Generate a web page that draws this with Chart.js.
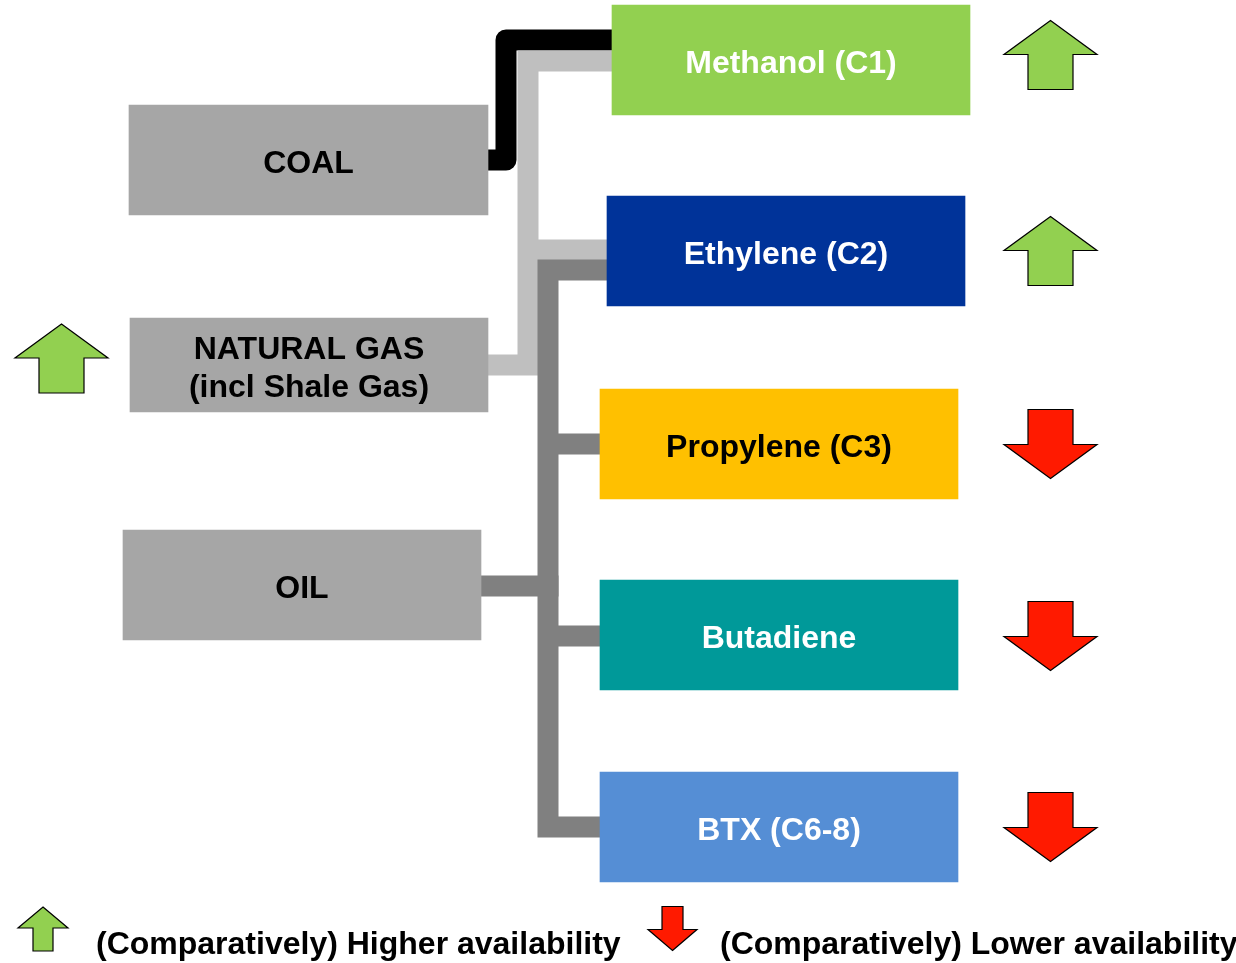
<!DOCTYPE html>
<html>
<head>
<meta charset="utf-8">
<script src="https://cdn.jsdelivr.net/npm/chart.js@4.4.1/dist/chart.umd.min.js"></script>
<style>
  html, body { margin: 0; padding: 0; background: #fff; }
  canvas { display: block; }
</style>
</head>
<body>
<canvas id="flowChart" width="1236" height="963"></canvas>
<script>
/* DATA */
const feedstocks = [["COAL"], ["NATURAL GAS", "(incl Shale Gas)"], ["OIL"]];
const feedstockTrend = [0, 1, 0];            // 1 = higher, -1 = lower, 0 = none
const products = ["Methanol (C1)", "Ethylene (C2)", "Propylene (C3)", "Butadiene", "BTX (C6-8)"];
const productTrend = [1, 1, -1, -1, -1];
// [feedstock index, product index]
const links = [[0, 0], [1, 0], [1, 1], [2, 1], [2, 2], [2, 3], [2, 4]];
const legendLabels = ["(Comparatively) Higher availability", "(Comparatively) Lower availability"];

/* LAYOUT */
const feedBoxes = [
  { x0: 129, x1: 488, y: 160, h: 110 },
  { x0: 130, x1: 488, y: 365, h: 94 },
  { x0: 123, x1: 481, y: 585, h: 110 }
];
const prodBoxes = [
  { x0: 612, x1: 970, y: 60 },
  { x0: 607, x1: 965, y: 251 },
  { x0: 600, x1: 958, y: 444 },
  { x0: 600, x1: 958, y: 635 },
  { x0: 600, x1: 958, y: 827 }
];
const prodColors = ["#92d050", "#003399", "#ffc000", "#009999", "#558ed5"];
const prodTextColors = ["#fff", "#fff", "#000", "#fff", "#fff"];
const trunkX = [506, 528, 548];
const linkColors = ["#000000", "#bfbfbf", "#808080"];
const feedLinkY = [160, 365, 586];
const linkProdDy = { "0-0": -20, "1-0": 1, "1-1": -1, "2-1": 19, "2-2": 0, "2-3": 1, "2-4": 0 };
const arrowDy = [-5, 0, 0, 1, 0];

const FONT = 'bold 32px "Liberation Sans", Arial, sans-serif';
const GREEN = "#92d050";
const RED = "#ff1a00";

function drawArrow(ctx, cx, cy, w, h, headH, shaftW, dir, fill) {
  const top = cy - h / 2, bot = cy + h / 2;
  ctx.beginPath();
  if (dir > 0) {
    const hb = top + headH;
    ctx.moveTo(cx, top);
    ctx.lineTo(cx + w / 2, hb);
    ctx.lineTo(cx + shaftW / 2, hb);
    ctx.lineTo(cx + shaftW / 2, bot);
    ctx.lineTo(cx - shaftW / 2, bot);
    ctx.lineTo(cx - shaftW / 2, hb);
    ctx.lineTo(cx - w / 2, hb);
  } else {
    const hb = bot - headH;
    ctx.moveTo(cx, bot);
    ctx.lineTo(cx + w / 2, hb);
    ctx.lineTo(cx + shaftW / 2, hb);
    ctx.lineTo(cx + shaftW / 2, top);
    ctx.lineTo(cx - shaftW / 2, top);
    ctx.lineTo(cx - shaftW / 2, hb);
    ctx.lineTo(cx - w / 2, hb);
  }
  ctx.closePath();
  ctx.fillStyle = fill;
  ctx.fill();
  ctx.lineWidth = 1.2;
  ctx.strokeStyle = "#000";
  ctx.lineJoin = "miter";
  ctx.stroke();
}

/* connectors, behind boxes */
const connectorPlugin = {
  id: "connectors",
  beforeDatasetsDraw(chart) {
    const { ctx, scales: { x, y } } = chart;
    ctx.save();
    feedstocks.forEach((f, fi) => {
      const mine = links.filter(l => l[0] === fi);
      if (!mine.length) return;
      const tx = x.getPixelForValue(trunkX[fi]);
      const fy = y.getPixelForValue(feedLinkY[fi]);
      const fx = x.getPixelForValue(feedBoxes[fi].x1);
      ctx.strokeStyle = linkColors[fi];
      ctx.lineWidth = 21;
      ctx.lineCap = "butt";
      ctx.lineJoin = fi === 0 ? "round" : "miter";
      const ends = mine.map(l => ({
        px: x.getPixelForValue(prodBoxes[l[1]].x0),
        py: y.getPixelForValue(prodBoxes[l[1]].y + linkProdDy[l[0] + "-" + l[1]])
      }));
      const first = ends.reduce((a, b) => (b.py < a.py ? b : a));
      const last = ends.reduce((a, b) => (b.py > a.py ? b : a));
      const feedBelow = !(last !== first && last.py > fy);
      ctx.beginPath();
      ctx.moveTo(first.px, first.py);
      ctx.lineTo(tx, first.py);
      if (!feedBelow) {
        ctx.lineTo(tx, last.py);
        ctx.lineTo(last.px, last.py);
      } else {
        ctx.lineTo(tx, fy);
        ctx.lineTo(fx, fy);
      }
      ctx.stroke();
      ctx.beginPath();
      ends.forEach(e => {
        if (e === first || e === last) return;
        ctx.moveTo(tx, e.py);
        ctx.lineTo(e.px, e.py);
      });
      if (feedBelow) {
        if (last !== first) { ctx.moveTo(tx, last.py); ctx.lineTo(last.px, last.py); }
      } else {
        ctx.moveTo(fx, fy);
        ctx.lineTo(tx + 10.5, fy);
      }
      ctx.stroke();
    });
    ctx.restore();
  },
  afterDatasetsDraw(chart) {
    const { ctx, scales: { x, y } } = chart;
    ctx.save();
    ctx.font = FONT;
    ctx.textAlign = "center";
    ctx.textBaseline = "middle";
    chart.data.datasets.forEach((ds, di) => {
      const meta = chart.getDatasetMeta(di);
      meta.data.forEach((el, j) => {
        const cx = (el.x + el.base) / 2;
        const lines = ds.boxLabels[j];
        const lh = 38;
        lines.forEach((t, k) => {
          ctx.fillStyle = ds.textColors[j];
          ctx.fillText(t, cx, el.y + 4 + (k - (lines.length - 1) / 2) * lh);
        });
      });
    });

    // availability arrows
    productTrend.forEach((t, i) => {
      if (!t) return;
      const cy = y.getPixelForValue(prodBoxes[i].y + arrowDy[i]);
      drawArrow(ctx, x.getPixelForValue(1050.5), cy, 93, 69, 34, 45, t, t > 0 ? GREEN : RED);
    });
    feedstockTrend.forEach((t, i) => {
      if (!t) return;
      const cy = y.getPixelForValue(feedBoxes[i].y - 6.5);
      drawArrow(ctx, x.getPixelForValue(61.5), cy, 93, 69, 34, 45, t, t > 0 ? GREEN : RED);
    });

    // legend
    drawArrow(ctx, x.getPixelForValue(43), y.getPixelForValue(929), 50, 44, 21, 20, 1, GREEN);
    drawArrow(ctx, x.getPixelForValue(672.5), y.getPixelForValue(928.5), 49, 44, 21, 21, -1, RED);
    ctx.fillStyle = "#000";
    ctx.textAlign = "left";
    ctx.textBaseline = "alphabetic";
    ctx.fillText(legendLabels[0], x.getPixelForValue(96), y.getPixelForValue(954));
    ctx.fillText(legendLabels[1], x.getPixelForValue(720), y.getPixelForValue(954));
    ctx.restore();
  }
};

const datasets = feedstocks.map((f, i) => ({
  data: [{ x: [feedBoxes[i].x0, feedBoxes[i].x1], y: feedBoxes[i].y }],
  backgroundColor: "#a6a6a6",
  barThickness: feedBoxes[i].h,
  grouped: false,
  borderWidth: 0,
  boxLabels: [f],
  textColors: ["#000"]
}));
datasets.push({
  data: products.map((p, i) => ({ x: [prodBoxes[i].x0, prodBoxes[i].x1], y: prodBoxes[i].y })),
  backgroundColor: prodColors,
  barThickness: 110,
  grouped: false,
  borderWidth: 0,
  boxLabels: products.map(p => [p]),
  textColors: prodTextColors
});

new Chart(document.getElementById("flowChart"), {
  type: "bar",
  data: { datasets },
  options: {
    indexAxis: "y",
    responsive: false,
    animation: false,
    layout: { padding: 0 },
    plugins: { legend: { display: false }, tooltip: { enabled: false } },
    scales: {
      x: { type: "linear", min: 0, max: 1236, display: false, offset: false },
      y: { type: "linear", min: 0, max: 963, reverse: true, display: false, offset: false, grid: { offset: false } }
    }
  },
  plugins: [connectorPlugin]
});
</script>
</body>
</html>
